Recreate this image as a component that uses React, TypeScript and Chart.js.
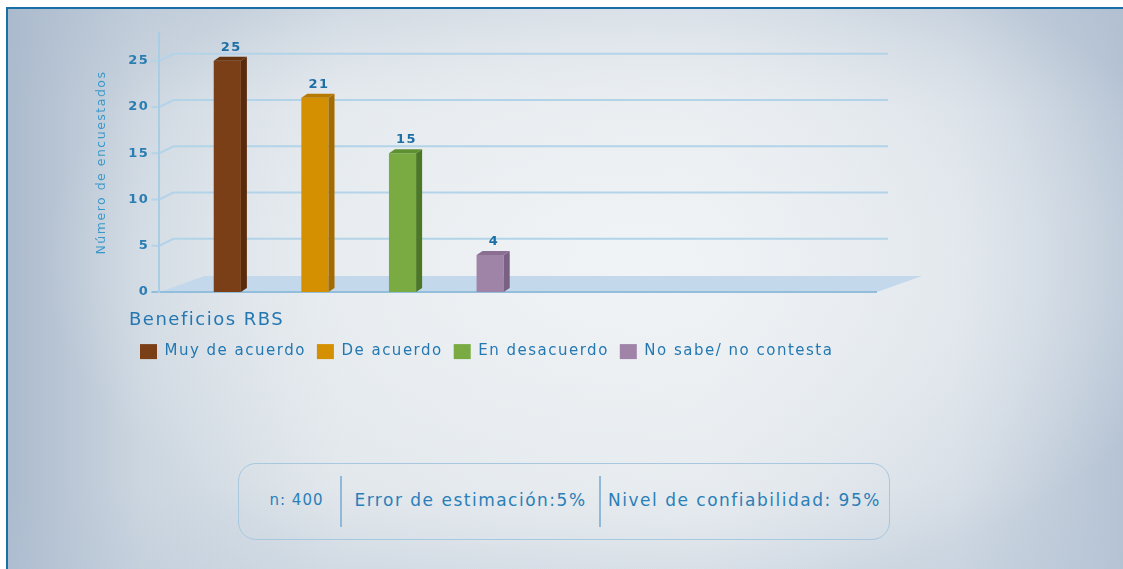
import { useEffect, useRef } from 'react';
import { Chart, registerables } from 'chart.js';

Chart.register(...registerables);

// ---------- data ----------
const categories = ['Beneficios RBS'];
const seriesNames = ['Muy de acuerdo', 'De acuerdo', 'En desacuerdo', 'No sabe/ no contesta'];
const muyDeAcuerdo = [25];
const deAcuerdo = [21];
const enDesacuerdo = [15];
const noSabe = [4];
const seriesValues = [muyDeAcuerdo, deAcuerdo, enDesacuerdo, noSabe];
const yAxisMin = 0;
const yAxisMax = 28;
const yTickStep = 5;
const yAxisTitle = 'Número de encuestados';
const infoItems = ['n: 400', 'Error de estimación:5%', 'Nivel de confiabilidad: 95%'];

// ---------- styles ----------
const FONT = '"DejaVu Sans", "Liberation Sans", sans-serif';
const LETTER_SPACING = '1.5px';
const frontColors = ['#7a3f16', '#d49000', '#79ab42', '#a084a8'];
const sideColors = ['#592b0c', '#a46c00', '#4c7826', '#7a6082'];
const topColors = ['#66330f', '#b67a00', '#5e8f31', '#8a6f92'];
const BAR_DX = 6;
const BAR_DY = 4;
const WALL_DX = 14;
const WALL_DY = 7;
const FLOOR_DX = 45;
const FLOOR_DY = 16;
const GRID_EXTRA = 11;

const depthPlugin = {
  id: 'depth3d',
  beforeLayout(chart: any) {
    chart.ctx.letterSpacing = LETTER_SPACING;
  },
  beforeDraw(chart: any) {
    const { ctx, chartArea, scales } = chart;
    ctx.letterSpacing = LETTER_SPACING;
    const y = scales.y;
    const left = chartArea.left;
    const right = chartArea.right;
    const y0 = y.getPixelForValue(0);
    ctx.save();
    // floor
    ctx.beginPath();
    ctx.moveTo(left, y0);
    ctx.lineTo(right, y0);
    ctx.lineTo(right + FLOOR_DX, y0 - FLOOR_DY);
    ctx.lineTo(left + FLOOR_DX, y0 - FLOOR_DY);
    ctx.closePath();
    ctx.fillStyle = '#c3d9eb';
    ctx.fill();
    // back wall grid lines with connectors
    ctx.strokeStyle = '#b3d3e8';
    ctx.lineWidth = 2;
    y.ticks.forEach((t: any) => {
      if (t.value === 0) return;
      const py = y.getPixelForValue(t.value);
      ctx.beginPath();
      ctx.moveTo(left - 8, py);
      ctx.lineTo(left, py);
      ctx.lineTo(left + WALL_DX, py - WALL_DY);
      ctx.lineTo(right + GRID_EXTRA, py - WALL_DY);
      ctx.stroke();
    });
    // floor front edge (zero line)
    ctx.strokeStyle = '#93bedb';
    ctx.beginPath();
    ctx.moveTo(left - 8, y0);
    ctx.lineTo(right, y0);
    ctx.stroke();
    ctx.restore();
  },
  afterDatasetsDraw(chart: any) {
    const { ctx } = chart;
    ctx.save();
    ctx.letterSpacing = LETTER_SPACING;
    chart.data.datasets.forEach((ds: any, i: number) => {
      const meta = chart.getDatasetMeta(i);
      meta.data.forEach((bar: any, j: number) => {
        const { x, y, base, width } = bar.getProps(['x', 'y', 'base', 'width'], true);
        const l = x - width / 2;
        const r = x + width / 2;
        ctx.fillStyle = sideColors[i];
        ctx.beginPath();
        ctx.moveTo(r, y);
        ctx.lineTo(r + BAR_DX, y - BAR_DY);
        ctx.lineTo(r + BAR_DX, base - BAR_DY);
        ctx.lineTo(r, base);
        ctx.closePath();
        ctx.fill();
        ctx.fillStyle = topColors[i];
        ctx.beginPath();
        ctx.moveTo(l, y);
        ctx.lineTo(l + BAR_DX, y - BAR_DY);
        ctx.lineTo(r + BAR_DX, y - BAR_DY);
        ctx.lineTo(r, y);
        ctx.closePath();
        ctx.fill();
        ctx.fillStyle = '#1d6fa5';
        ctx.font = 'bold 13px ' + FONT;
        ctx.textAlign = 'center';
        ctx.textBaseline = 'bottom';
        ctx.fillText(String(ds.data[j]), x + BAR_DX / 2 + 1, y - BAR_DY - 3);
      });
    });
    ctx.restore();
  },
};

export default function App() {
  const canvasRef = useRef<HTMLCanvasElement | null>(null);

  useEffect(() => {
    const canvas = canvasRef.current;
    if (!canvas) return;
    const chart = new Chart(canvas, {
      type: 'bar',
      data: {
        labels: categories,
        datasets: seriesNames.map((name, i) => ({
          label: name,
          data: seriesValues[i],
          backgroundColor: frontColors[i],
          borderWidth: 0,
          categoryPercentage: 0.879,
          barPercentage: 0.31,
          xAxisID: 'x',
          yAxisID: 'y',
        })),
      },
      options: {
        responsive: false,
        animation: false,
        events: [],
        layout: { padding: { left: 129, right: 246, top: 33, bottom: 10.9 } },
        scales: {
          x: {
            type: 'category',
            position: 'bottom',
            stack: 'floor',
            stackWeight: 5,
            display: false,
            offset: true,
            grid: { display: false },
          },
          xRest: {
            type: 'linear',
            position: 'bottom',
            axis: 'x',
            stack: 'floor',
            stackWeight: 4,
            display: false,
          },
          y: {
            type: 'linear',
            position: 'left',
            min: yAxisMin,
            max: yAxisMax,
            grid: { display: false, drawTicks: false },
            border: { display: true, color: '#a9cde4', width: 2 },
            ticks: {
              stepSize: yTickStep,
              includeBounds: false,
              padding: 10,
              color: '#2a7db3',
              font: { family: FONT, size: 13, weight: 'bold' },
            },
            title: {
              display: true,
              text: yAxisTitle,
              color: '#3a98c9',
              font: { family: FONT, size: 12.5 },
              padding: { top: -35.2, bottom: 9.5 },
            },
          },
        },
        plugins: {
          tooltip: { enabled: false },
          legend: {
            position: 'bottom',
            align: 'start',
            title: {
              display: true,
              text: categories[0],
              position: 'start',
              color: '#2478b2',
              font: { family: FONT, size: 18 },
              padding: { top: 19.5, bottom: 0 },
            },
            labels: {
              boxWidth: 17,
              boxHeight: 15,
              padding: 11,
              color: '#2478b2',
              font: { family: FONT, size: 15 },
            },
          },
        },
      } as any,
      plugins: [depthPlugin],
    });
    return () => chart.destroy();
  }, []);

  const cellWidths = [101, 257, 287];
  const cellPadLeft = [14, 0, 0];
  const cellFonts = [
    { size: 15, spacing: 1 },
    { size: 17, spacing: 1.5 },
    { size: 17, spacing: 1.5 },
  ];

  return (
    <div
      style={{
        position: 'fixed',
        left: 0,
        top: 0,
        width: 1123,
        height: 569,
        background: '#ffffff',
        overflow: 'hidden',
      }}
    >
      <div
        style={{
          position: 'absolute',
          left: 6,
          top: 7,
          right: 0,
          bottom: 0,
          borderTop: '2px solid #1a6ea8',
          borderLeft: '2px solid #1a6ea8',
          background:
            'radial-gradient(ellipse 60% 68% at 56% 45%, rgba(242,245,247,0.9) 0%, rgba(236,240,243,0.6) 50%, rgba(232,237,241,0) 88%), linear-gradient(180deg, rgba(170,186,205,0.35) 0%, rgba(200,212,224,0) 18%, rgba(200,212,224,0) 85%, rgba(180,196,214,0.3) 100%), linear-gradient(90deg, #abbacd 0%, #ccd6e0 12%, #dfe5ea 30%, #e4e9ed 62%, #d3dbe4 85%, #b5c3d4 100%)',
        }}
      />
      <canvas
        ref={canvasRef}
        width={1123}
        height={380}
        style={{ position: 'absolute', left: 0, top: 0, width: 1123, height: 380 }}
      />
      <div
        style={{
          position: 'absolute',
          left: 238,
          top: 463,
          width: 652,
          height: 77,
          boxSizing: 'border-box',
          border: '1.5px solid #a7c8df',
          borderRadius: 18,
          display: 'flex',
          alignItems: 'center',
          fontFamily: FONT,
          color: '#2b7fb8',
          paddingBottom: 4,
        }}
      >
        {infoItems.map((txt, i) => (
          <div key={txt} style={{ display: 'flex', alignItems: 'center' }}>
            {i > 0 && (
              <div style={{ width: 2, height: 51, background: '#8fb9d8', marginTop: 4 }} />
            )}
            <div
              style={{
                width: cellWidths[i],
                boxSizing: 'border-box',
                paddingLeft: cellPadLeft[i],
                textAlign: 'center',
                fontSize: cellFonts[i].size,
                letterSpacing: cellFonts[i].spacing,
                whiteSpace: 'nowrap',
              }}
            >
              {txt}
            </div>
          </div>
        ))}
      </div>
    </div>
  );
}
